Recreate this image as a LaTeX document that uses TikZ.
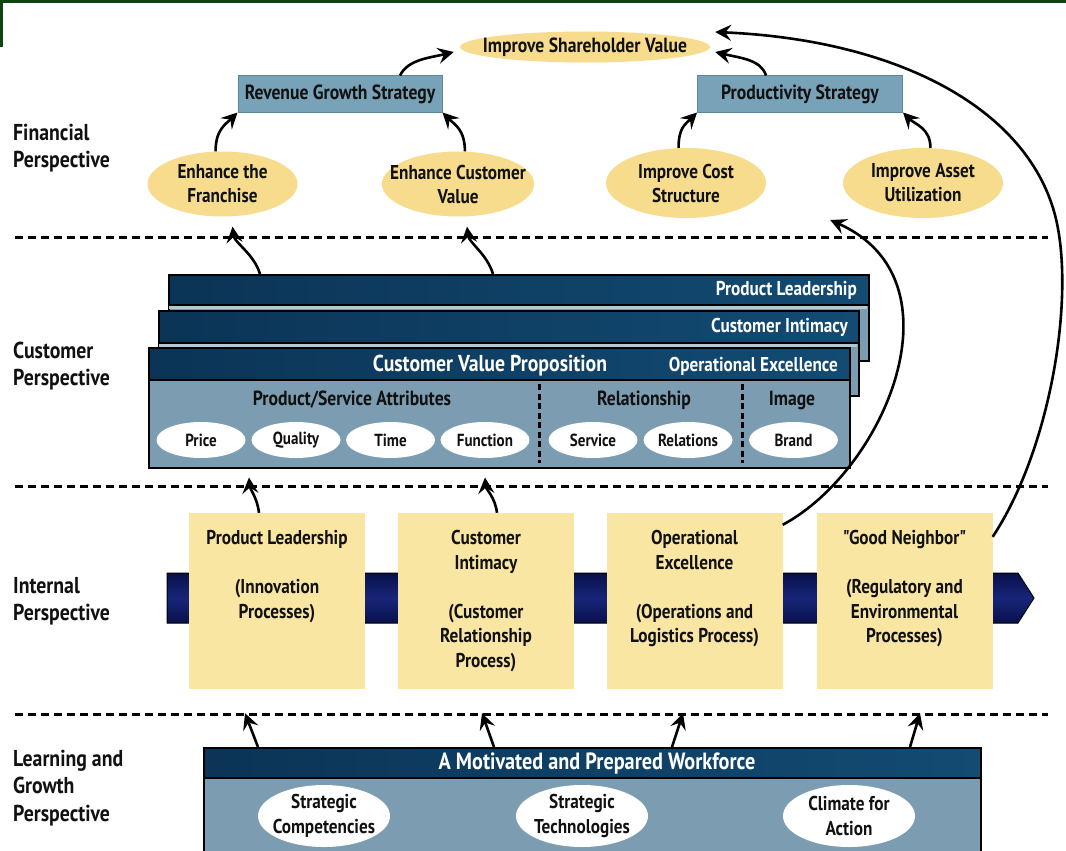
\documentclass[tikz,border=0pt]{standalone}
\usepackage{fontspec}
\setmainfont[FakeStretch=0.86, Ligatures=TeXOff]{PT Sans}
\usetikzlibrary{arrows.meta,shapes.geometric,calc}
\definecolor{bgreen}{HTML}{0E4410}
\definecolor{ellY}{HTML}{F6DC8C}
\definecolor{boxY}{HTML}{FAE6A3}
\definecolor{stratB}{HTML}{78A2B7}
\definecolor{stratE}{HTML}{5E8699}
\definecolor{hdrL}{HTML}{0B3456}
\definecolor{hdrR}{HTML}{134B73}
\definecolor{steel}{HTML}{7C9DB1}
\definecolor{stripC}{HTML}{B4C8D3}
\definecolor{bandD}{HTML}{08104A}
\definecolor{bandL}{HTML}{18267A}
\definecolor{txt}{HTML}{111111}
\newcommand\fz[2]{\fontsize{#1}{#2}\selectfont\bfseries}
\tikzset{
  fell/.style={ellipse, fill=ellY, inner xsep=-14pt, inner ysep=0pt, align=center, text=txt, font=\fz{20}{24}},
  strat/.style={rectangle, fill=stratB, draw=stratE, line width=1pt, inner sep=0pt, text=txt, font=\fz{20.5}{22}},
  arr/.style={line width=2.6pt, draw=black, -{Stealth[length=16pt,width=16pt,inset=6pt]}},
  sepline/.style={line width=3pt, dash pattern=on 8pt off 5pt},
  vsep/.style={line width=3pt, dash pattern=on 6pt off 3.5pt},
  persp/.style={anchor=west, align=left, inner sep=0pt, text=txt, font=\fz{23}{27.5}},
  hdr/.style={rectangle, draw=black, line width=1.5pt, inner sep=0pt, left color=hdrL, right color=hdrR},
  bodybox/.style={rectangle, draw=black, line width=1.5pt, fill=steel, inner sep=0pt},
  wht/.style={text=white, inner sep=0pt},
  well/.style={ellipse, fill=white, inner sep=0pt, minimum width=89pt, minimum height=36pt, text=txt, font=\fz{17.5}{18}},
  ybox/.style={rectangle, fill=boxY, minimum width=176pt, minimum height=176pt, inner sep=0pt},
  ytext/.style={anchor=north, align=center, inner sep=0pt, text=txt, font=\fz{20}{24.6}},
  lgell/.style={ellipse, fill=white, inner xsep=-8pt, inner ysep=0pt, minimum width=132pt, minimum height=62pt, align=center, text=txt, font=\fz{20}{25}},
  sublabel/.style={inner sep=0pt, text=txt, font=\fz{20.5}{22}},
}
\begin{document}
\begin{tikzpicture}[x=1pt,y=-1pt]
\useasboundingbox (0,0) rectangle (1066,851);
\fill[white] (0,0) rectangle (1066,851);
\fill[bgreen] (0,0) rectangle (1066,3);
\fill[bgreen] (0,0) rectangle (3,47);

% perspective labels
\node[persp] (lfin) at (13,148) {Financial\\Perspective};
\node[persp] (lcus) at (13,366) {Customer\\Perspective};
\node[persp] (lint) at (13,601) {Internal\\Perspective};
\node[persp] (llg) at (13,788) {Learning and\\Growth\\Perspective};

% dashed separators
\draw[sepline] (15,237) -- (1048,237);
\draw[sepline] (15,486) -- (1048,486);
\draw[sepline] (15,714) -- (1048,714);

% financial
\node[fell, minimum width=250pt, minimum height=31pt, font=\fz{20.5}{22}] (shv) at (585,47) {Improve Shareholder Value};
\node[strat, minimum width=204pt, minimum height=36pt] (rev) at (340,94) {Revenue Growth Strategy};
\node[strat, minimum width=205pt, minimum height=36pt] (prod) at (800,94) {Productivity Strategy};
\node[fell, minimum width=150pt, minimum height=65pt] (fr) at (222.5,184) {Enhance the\\Franchise};
\node[fell, minimum width=152pt, minimum height=65pt] (ecv) at (458,184) {Enhance Customer\\Value};
\node[fell, minimum width=160pt, minimum height=70pt] (ics) at (686,183) {Improve Cost\\Structure};
\node[fell, minimum width=160pt, minimum height=70pt] (ias) at (923,183) {Improve Asset\\Utilization};

% customer stack
\node[bodybox, anchor=north west, minimum width=700pt, minimum height=86pt] (plb) at (168,274) {};
\fill[stripC] (169,304) rectangle (867,309);
\node[hdr, anchor=north west, minimum width=700pt, minimum height=30pt] (plh) at (168,274) {};
\node[wht, anchor=east, font=\fz{20}{20}] (plt) at (857,290) {Product Leadership};

\node[bodybox, anchor=north west, minimum width=700pt, minimum height=85pt] (cib) at (158,310) {};
\fill[stripC] (159,342) rectangle (857,347);
\node[hdr, anchor=north west, minimum width=700pt, minimum height=32pt] (cih) at (158,310) {};
\node[wht, anchor=east, font=\fz{20}{20}] (cit) at (848,327) {Customer Intimacy};

\node[bodybox, anchor=north west, minimum width=701pt, minimum height=120pt] (cvpb) at (148,347) {};
\node[hdr, anchor=north west, minimum width=701pt, minimum height=32pt] (cvph) at (148,347) {};
\node[wht, font=\fz{23}{24}] (cvpt) at (490,366) {Customer Value Proposition};
\node[wht, anchor=east, font=\fz{20}{20}] (oet) at (838,366) {Operational Excellence};

\node[sublabel] (psa) at (352,400) {Product/Service Attributes};
\node[sublabel] (rel) at (644,400) {Relationship};
\node[sublabel] (img) at (792,400) {Image};
\draw[vsep] (539,384) -- (539,463);
\draw[vsep] (742,384) -- (742,463);
\node[well] (price) at (201,440) {Price};
\node[well] (qual) at (296,440) {Quality};
\node[well] (time) at (390.5,440) {Time};
\node[well] (func) at (485,440) {Function};
\node[well] (serv) at (593,440) {Service};
\node[well] (rels) at (688,440) {Relations};
\node[well] (brand) at (793.5,440) {Brand};

% internal band
\draw[line width=1pt, draw=black, top color=bandD, bottom color=bandD, middle color=bandL]
  (167,573) -- (1018,573) -- (1034,598) -- (1018,623) -- (167,623) -- cycle;
\node[ybox] (yb1) at (277,601) {};
\node[ybox] (yb2) at (486,601) {};
\node[ybox] (yb3) at (694.5,601) {};
\node[ybox] (yb4) at (904.5,601) {};
\node[ytext] (t1) at (277,530) {Product Leadership\\[24.6pt](Innovation\\Processes)};
\node[ytext] (t2) at (486,530) {Customer\\Intimacy\\[24.6pt](Customer\\Relationship\\Process)};
\node[ytext] (t3) at (694.5,530) {Operational\\Excellence\\[24.6pt](Operations and\\Logistics Process)};
\node[ytext] (t4) at (904.5,530) {"Good Neighbor"\\[24.6pt](Regulatory and\\Environmental\\Processes)};

% learning and growth
\node[bodybox, anchor=north west, minimum width=777pt, minimum height=110pt] (lgb) at (203,747) {};
\node[hdr, anchor=north west, minimum width=777pt, minimum height=30pt] (lgh) at (203,747) {};
\node[wht, font=\fz{23.5}{24}] (lgt) at (597,763) {A Motivated and Prepared Workforce};
\node[lgell] (sc) at (324,816) {Strategic\\Competencies};
\node[lgell] (st) at (582,816) {Strategic\\Technologies};
\node[lgell] (ca) at (849,816) {Climate for\\Action};

% arrows: financial
\draw[arr] (fr.102) .. controls +(0,-22) and +(-12,12) .. (rev.south west);
\draw[arr] (ecv.78) .. controls +(0,-22) and +(12,12) .. (rev.south east);
\draw[arr] ($(rev.north)+(60,0)$) .. controls +(8,-16) and +(-25,6) .. ($(shv.west)+(-6,5)$);
\draw[arr] ($(prod.north)+(-34,0)$) .. controls +(-5,-16) and +(25,6) .. ($(shv.east)+(5,5)$);
\draw[arr] (ics.102) .. controls +(0,-20) and +(-12,12) .. (prod.south west);
\draw[arr] (ias.78) .. controls +(0,-20) and +(12,12) .. (prod.south east);

% arrows: customer to financial
\draw[arr] ($(plh.north west)+(92,0)$) .. controls +(-6,-20) and +(2,16) .. ($(fr.south)+(10,10)$);
\draw[arr] ($(plh.north west)+(325,0)$) .. controls +(-6,-20) and +(2,16) .. ($(ecv.south)+(9,10)$);

% arrows: internal to customer
\draw[arr] ($(yb1.north)+(-18,0)$) .. controls +(-2,-16) and +(1,12) .. ($(cvpb.south west)+(101,9)$);
\draw[arr] ($(yb2.north)+(11,0)$) .. controls +(-2,-16) and +(1,12) .. ($(cvpb.south west)+(337,9)$);

% arrows: learning to internal
\draw[arr] ($(lgh.north west)+(55,0)$) -- ($(yb1.south)+(-32,24)$);
\draw[arr] ($(lgh.north west)+(291,0)$) -- ($(yb2.south)+(-4,24)$);
\draw[arr] ($(lgh.north west)+(469,0)$) -- ($(yb3.south)+(-11.5,24)$);
\draw[arr] ($(lgh.north west)+(707,0)$) -- ($(yb4.south)+(15.5,24)$);

% long arcs
\draw[arr] ($(yb3.north east)+(0,12)$) .. controls (885,470) and (965,280) .. ($(ics.east)+(64,37)$);
\draw[arr] ($(yb4.north east)+(0,24)$) .. controls (1050,450) and (1075,300) .. (1056,219)
  .. controls (1030,110) and (900,40) .. ($(shv.east)+(5,-15)$);
\end{tikzpicture}
\end{document}
